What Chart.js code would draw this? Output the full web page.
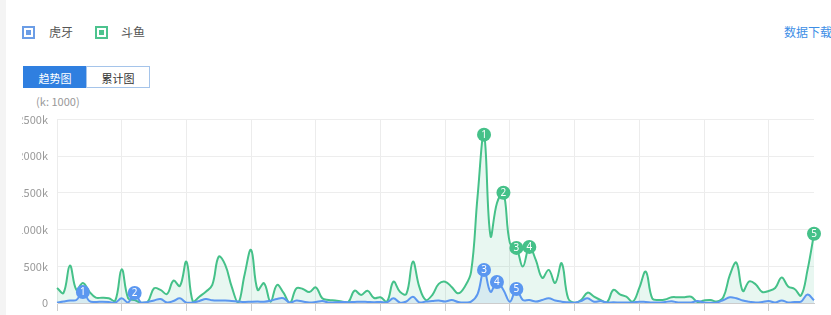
<!DOCTYPE html>
<html>
<head>
<meta charset="utf-8">
<script src="https://cdn.jsdelivr.net/npm/chart.js@4"></script>
<style>
  html, body { margin: 0; padding: 0; }
  body { width: 831px; height: 315px; overflow: hidden; position: relative; background: #fff;
         font-family: "Noto Sans CJK SC", "Noto Sans", sans-serif; }
  .strip { position: absolute; left: 0; top: 0; width: 6px; height: 315px; background: #f4f4f4; }
  .leg { position: absolute; top: 24px; font-size: 12px; color: #555; line-height: 16px; }
  .ico { position: absolute; top: 26px; width: 9px; height: 9px; border: 2px solid; }
  .ico i { position: absolute; left: 2px; top: 2px; width: 5px; height: 5px; }
  .dl { position: absolute; left: 784px; top: 24px; font-size: 12px; color: #3d8ee6; line-height: 16px; white-space: nowrap; }
  .btn { position: absolute; top: 66px; height: 22px; line-height: 22px; font-size: 11px; text-align: center; box-sizing: border-box; }
  .unit { position: absolute; left: 36px; top: 93px; font-size: 11px; color: #999; }
  #wrap { position: absolute; left: 22px; top: 104px; }
</style>
</head>
<body>
<div class="strip"></div>
<div class="ico" style="left:22px;border-color:#6b9de6"><i style="background:#6b9de6"></i></div>
<div class="leg" style="left:49px">虎牙</div>
<div class="ico" style="left:95px;border-color:#4cc38e"><i style="background:#4cc38e"></i></div>
<div class="leg" style="left:121px">斗鱼</div>
<div class="dl">数据下载</div>
<div class="btn" style="left:23px;width:64px;background:#2f7fe0;color:#fff;border:1px solid #2f7fe0">趋势图</div>
<div class="btn" style="left:86px;width:64px;background:#fff;color:#333;border:1px solid #a5c4ea">累计图</div>
<div class="unit">(k: 1000)</div>
<div id="wrap"><canvas id="myChart" width="809" height="239"></canvas></div>
<script>
// values in k
const huya = [4, 20, 34, 41, 150, 27, 14, 18, 14, 4,
  64, 7, 137, 4, 14, 34, 55, 7, 27, 64,
  4, 7, 27, 55, 37, 34, 34, 27, 20, 14,
  18, 20, 18, 31, 55, 64, 4, 34, 20, 7,
  14, 27, 7, 10, 14, 10, 14, 18, 14, 10,
  14, 10, 64, 7, 20, 86, 7, 20, 27, 34,
  20, 41, 14, 7, 18, 120, 451, 154, 287, 178,
  18, 191, 41, 41, 20, 41, 64, 34, 18, 10,
  4, 27, 64, 18, 27, 7, 10, 7, 7, 7,
  18, 14, 7, 7, 14, 23, 7, 7, 7, 27,
  7, 4, 7, 41, 78, 64, 34, 18, 7, 14,
  27, 7, 34, 7, 14, 20, 116, 37];
const douyu = [205, 137, 510, 178, 273, 154, 73, 73, 64, 31,
  460, 64, 41, 4, 14, 200, 178, 123, 305, 232,
  564, 18, 86, 154, 246, 632, 519, 223, 0, 390,
  724, 178, 269, 18, 246, 141, 0, 200, 191, 150,
  214, 64, 41, 34, 20, 10, 168, 109, 168, 68,
  78, 18, 291, 154, 123, 564, 219, 41, 109, 260,
  291, 219, 132, 219, 423, 1450, 2295, 915, 1362, 1503,
  816, 751, 496, 765, 587, 342, 451, 273, 542, 64,
  4, 41, 141, 86, 41, 10, 178, 119, 86, 18,
  205, 428, 64, 41, 48, 78, 78, 78, 86, 14,
  34, 41, 20, 82, 382, 550, 164, 294, 253, 150,
  164, 205, 348, 225, 191, 102, 451, 943];
const huyaMarks = [4, 12, 66, 68, 71];
const douyuMarks = [66, 69, 71, 73, 117];
const yTicks = [0, 500, 1000, 1500, 2000, 2500];

const labels = [];
const start = new Date(2019, 0, 1);
for (let i = 0; i < douyu.length; i++) {
  const d = new Date(start.getTime() + i * 86400000);
  labels.push((d.getMonth() + 1) + '-' + d.getDate());
}

const blue = '#5b97f0';
const green = '#45c189';

const markLabels = {
  id: 'markLabels',
  afterDatasetsDraw(chart) {
    const c = chart.ctx;
    c.save();
    c.fillStyle = '#fff';
    c.font = '10px "Noto Sans", sans-serif';
    c.textAlign = 'center';
    c.textBaseline = 'middle';
    chart.data.datasets.forEach((ds, k) => {
      const meta = chart.getDatasetMeta(k);
      ds.marks.forEach((idx, n) => {
        const p = meta.data[idx];
        c.fillText(String(n + 1), p.x, p.y + 0.5);
      });
    });
    c.restore();
  }
};

const ctx = document.getElementById('myChart');
new Chart(ctx, {
  type: 'line',
  data: {
    labels: labels,
    datasets: [{
      label: '虎牙',
      data: huya,
      marks: huyaMarks,
      borderColor: blue,
      backgroundColor: 'rgba(91,151,240,0.12)',
      borderWidth: 2,
      fill: 'origin',
      tension: 0.4,
      pointRadius: c => huyaMarks.includes(c.dataIndex) ? 7 : 0,
      pointBackgroundColor: blue,
      pointBorderWidth: 0
    }, {
      label: '斗鱼',
      data: douyu,
      marks: douyuMarks,
      borderColor: green,
      backgroundColor: 'rgba(69,193,137,0.12)',
      borderWidth: 2,
      fill: 'origin',
      tension: 0.4,
      pointRadius: c => douyuMarks.includes(c.dataIndex) ? 7 : 0,
      pointBackgroundColor: green,
      pointBorderWidth: 0
    }]
  },
  options: {
    responsive: false,
    animation: false,
    layout: { padding: { top: 10, right: 17, left: 0, bottom: 0 } },
    plugins: {
      legend: { display: false },
      tooltip: { enabled: false }
    },
    scales: {
      x: {
        afterFit: s => { s.height = 40; },
        grid: { color: '#ececec', tickLength: 8, tickColor: '#ccc' },
        border: { color: '#ccc' },
        ticks: {
          autoSkip: false,
          maxRotation: 0,
          padding: 20,
          color: '#999',
          callback: (v, i) => i % 10 === 0 ? labels[i] : null
        }
      },
      y: {
        min: 0,
        max: 2500,
        afterFit: s => { s.width = 35; },
        afterBuildTicks: s => { s.ticks = yTicks.map(v => ({ value: v })); },
        grid: { color: '#ededed', drawTicks: false },
        border: { color: '#ececec' },
        ticks: {
          padding: 9,
          color: '#999',
          font: { size: 11, family: '"Noto Sans CJK SC", sans-serif' },
          callback: v => v === 0 ? '0' : v + 'k'
        }
      }
    }
  },
  plugins: [markLabels]
});
</script>
</body>
</html>
